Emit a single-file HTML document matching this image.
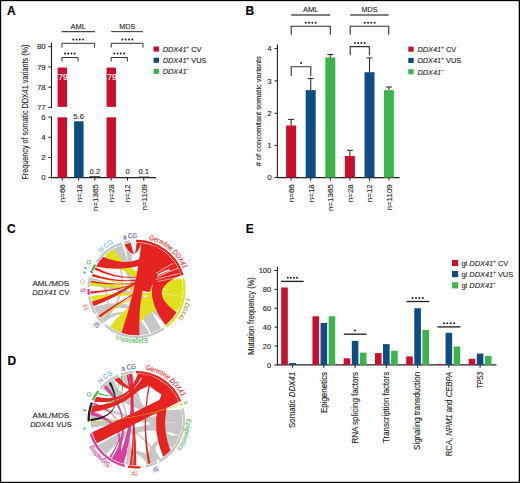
<!DOCTYPE html>
<html><head><meta charset="utf-8"><style>
html,body{margin:0;padding:0;background:#fff;width:520px;height:483px;overflow:hidden}
svg{display:block}
text{font-family:"Liberation Sans",sans-serif;stroke-width:0.12px}
</style></head><body>
<svg width="520" height="483" viewBox="0 0 520 483">
<rect width="520" height="483" fill="#fff"/>
<text x="7" y="14.9" font-size="12" font-weight="bold" fill="#000" stroke="#000" >A</text>
<text x="245.6" y="15.0" font-size="12" font-weight="bold" fill="#000" stroke="#000" >B</text>
<text x="7" y="233" font-size="12" font-weight="bold" fill="#000" stroke="#000" >C</text>
<text x="7.6" y="364.9" font-size="12" font-weight="bold" fill="#000" stroke="#000" >D</text>
<text x="245.8" y="232.8" font-size="12" font-weight="bold" fill="#000" stroke="#000" >E</text>
<line x1="51.5" y1="42.5" x2="51.5" y2="107.9" stroke="#231f20" stroke-width="1.1"/>
<line x1="51.5" y1="116.6" x2="51.5" y2="178.1" stroke="#231f20" stroke-width="1.1"/>
<line x1="48.3" y1="46.6" x2="51.5" y2="46.6" stroke="#231f20" stroke-width="1.0"/>
<text x="45.7" y="49.4" font-size="7.9" text-anchor="end" fill="#231f20" stroke="#231f20" >80</text>
<line x1="48.3" y1="66.9" x2="51.5" y2="66.9" stroke="#231f20" stroke-width="1.0"/>
<text x="45.7" y="69.7" font-size="7.9" text-anchor="end" fill="#231f20" stroke="#231f20" >79</text>
<line x1="48.3" y1="87.2" x2="51.5" y2="87.2" stroke="#231f20" stroke-width="1.0"/>
<text x="45.7" y="90.0" font-size="7.9" text-anchor="end" fill="#231f20" stroke="#231f20" >78</text>
<line x1="48.3" y1="107.4" x2="51.5" y2="107.4" stroke="#231f20" stroke-width="1.0"/>
<text x="45.7" y="110.2" font-size="7.9" text-anchor="end" fill="#231f20" stroke="#231f20" >77</text>
<line x1="48.3" y1="117.1" x2="51.5" y2="117.1" stroke="#231f20" stroke-width="1.0"/>
<text x="45.7" y="119.89999999999999" font-size="7.9" text-anchor="end" fill="#231f20" stroke="#231f20" >6</text>
<line x1="48.3" y1="137.3" x2="51.5" y2="137.3" stroke="#231f20" stroke-width="1.0"/>
<text x="45.7" y="140.10000000000002" font-size="7.9" text-anchor="end" fill="#231f20" stroke="#231f20" >4</text>
<line x1="48.3" y1="157.5" x2="51.5" y2="157.5" stroke="#231f20" stroke-width="1.0"/>
<text x="45.7" y="160.3" font-size="7.9" text-anchor="end" fill="#231f20" stroke="#231f20" >2</text>
<line x1="48.3" y1="177.6" x2="51.5" y2="177.6" stroke="#231f20" stroke-width="1.0"/>
<text x="45.7" y="180.4" font-size="7.9" text-anchor="end" fill="#231f20" stroke="#231f20" >0</text>
<line x1="51.0" y1="177.6" x2="156" y2="177.6" stroke="#231f20" stroke-width="1.1"/>
<line x1="62.3" y1="177.6" x2="62.3" y2="180.6" stroke="#231f20" stroke-width="1.0"/>
<line x1="78.6" y1="177.6" x2="78.6" y2="180.6" stroke="#231f20" stroke-width="1.0"/>
<line x1="94.9" y1="177.6" x2="94.9" y2="180.6" stroke="#231f20" stroke-width="1.0"/>
<line x1="111.2" y1="177.6" x2="111.2" y2="180.6" stroke="#231f20" stroke-width="1.0"/>
<line x1="127.5" y1="177.6" x2="127.5" y2="180.6" stroke="#231f20" stroke-width="1.0"/>
<line x1="143.8" y1="177.6" x2="143.8" y2="180.6" stroke="#231f20" stroke-width="1.0"/>
<rect x="57.65" y="67.6" width="9.4" height="39.3" fill="#c8102e"/>
<rect x="57.65" y="117.3" width="9.4" height="60.3" fill="#c8102e"/>
<text x="63.099999999999994" y="80.2" font-size="8.6" text-anchor="middle" fill="#fff" stroke="#fff" >79</text>
<rect x="106.55" y="67.6" width="9.4" height="39.3" fill="#c8102e"/>
<rect x="106.55" y="117.3" width="9.4" height="60.3" fill="#c8102e"/>
<text x="112.0" y="80.2" font-size="8.6" text-anchor="middle" fill="#fff" stroke="#fff" >79</text>
<rect x="74.1" y="121.3" width="9.5" height="56.3" fill="#0f4c81"/>
<rect x="89.4" y="176.2" width="11" height="1.6" fill="#2b2b2b"/>
<rect x="138.3" y="176.6" width="11" height="1.2" fill="#2b2b2b"/>
<text x="78.6" y="118.7" font-size="7.6" text-anchor="middle" fill="#231f20" stroke="#231f20" >5.6</text>
<text x="94.9" y="173.6" font-size="7.6" text-anchor="middle" fill="#231f20" stroke="#231f20" >0.2</text>
<text x="127.5" y="173.8" font-size="7.6" text-anchor="middle" fill="#231f20" stroke="#231f20" >0</text>
<text x="143.8" y="173.8" font-size="7.6" text-anchor="middle" fill="#231f20" stroke="#231f20" >0.1</text>
<text transform="translate(65.2,184.2) rotate(-90)" font-size="8.0" text-anchor="end" fill="#231f20" stroke="#231f20" >n=66</text>
<text transform="translate(81.5,184.2) rotate(-90)" font-size="8.0" text-anchor="end" fill="#231f20" stroke="#231f20" >n=18</text>
<text transform="translate(97.80000000000001,184.2) rotate(-90)" font-size="8.0" text-anchor="end" fill="#231f20" stroke="#231f20" >n=1365</text>
<text transform="translate(114.10000000000001,184.2) rotate(-90)" font-size="8.0" text-anchor="end" fill="#231f20" stroke="#231f20" >n=28</text>
<text transform="translate(130.4,184.2) rotate(-90)" font-size="8.0" text-anchor="end" fill="#231f20" stroke="#231f20" >n=12</text>
<text transform="translate(146.70000000000002,184.2) rotate(-90)" font-size="8.0" text-anchor="end" fill="#231f20" stroke="#231f20" >n=1109</text>
<text transform="translate(28.4,112.1) rotate(-90)" font-size="8.8" text-anchor="middle" textLength="135" lengthAdjust="spacingAndGlyphs" fill="#231f20" stroke="#231f20" >Frequency of somatic DDX41 variants (%)</text>
<text x="78.3" y="28.7" font-size="7.6" text-anchor="middle" textLength="15.6" lengthAdjust="spacingAndGlyphs" fill="#231f20" stroke="#231f20" >AML</text>
<line x1="61.7" y1="31.6" x2="94.9" y2="31.6" stroke="#444" stroke-width="1.1"/>
<text x="127.2" y="28.7" font-size="7.6" text-anchor="middle" textLength="16" lengthAdjust="spacingAndGlyphs" fill="#231f20" stroke="#231f20" >MDS</text>
<line x1="111.2" y1="31.6" x2="143.0" y2="31.6" stroke="#444" stroke-width="1.1"/>
<polyline points="61.9,47.6 61.9,43.3 94.6,43.3 94.6,47.6" fill="none" stroke="#333" stroke-width="1.0" stroke-linejoin="miter"/>
<circle cx="73.20" cy="39.6" r="1.0" fill="#231f20"/>
<circle cx="76.50" cy="39.6" r="1.0" fill="#231f20"/>
<circle cx="79.80" cy="39.6" r="1.0" fill="#231f20"/>
<circle cx="83.10" cy="39.6" r="1.0" fill="#231f20"/>
<polyline points="61.9,61.5 61.9,57.5 78.0,57.5 78.0,61.5" fill="none" stroke="#333" stroke-width="1.0" stroke-linejoin="miter"/>
<circle cx="65.00" cy="53.4" r="1.0" fill="#231f20"/>
<circle cx="68.23" cy="53.4" r="1.0" fill="#231f20"/>
<circle cx="71.47" cy="53.4" r="1.0" fill="#231f20"/>
<circle cx="74.70" cy="53.4" r="1.0" fill="#231f20"/>
<polyline points="111.2,47.6 111.2,43.3 143.0,43.3 143.0,47.6" fill="none" stroke="#333" stroke-width="1.0" stroke-linejoin="miter"/>
<circle cx="122.40" cy="39.6" r="1.0" fill="#231f20"/>
<circle cx="125.70" cy="39.6" r="1.0" fill="#231f20"/>
<circle cx="129.00" cy="39.6" r="1.0" fill="#231f20"/>
<circle cx="132.30" cy="39.6" r="1.0" fill="#231f20"/>
<polyline points="111.2,61.5 111.2,57.5 127.4,57.5 127.4,61.5" fill="none" stroke="#333" stroke-width="1.0" stroke-linejoin="miter"/>
<circle cx="114.30" cy="53.4" r="1.0" fill="#231f20"/>
<circle cx="117.53" cy="53.4" r="1.0" fill="#231f20"/>
<circle cx="120.77" cy="53.4" r="1.0" fill="#231f20"/>
<circle cx="124.00" cy="53.4" r="1.0" fill="#231f20"/>
<rect x="153.6" y="46.49999999999999" width="5.4" height="5.1000000000000005" fill="#c8102e"/>
<text x="162.7" y="51.9" font-size="7.4" fill="#231f20" stroke="#231f20"><tspan font-style="italic">DDX41</tspan><tspan font-size="4.59" dy="-3">+</tspan><tspan dy="3"> CV</tspan></text>
<rect x="153.6" y="57.699999999999996" width="5.4" height="5.1000000000000005" fill="#0f4c81"/>
<text x="162.7" y="63.1" font-size="7.4" fill="#231f20" stroke="#231f20"><tspan font-style="italic">DDX41</tspan><tspan font-size="4.59" dy="-3">+</tspan><tspan dy="3"> VUS</tspan></text>
<rect x="153.6" y="68.8" width="5.4" height="5.1000000000000005" fill="#3cb44b"/>
<text x="162.7" y="74.19999999999999" font-size="7.4" fill="#231f20" stroke="#231f20"><tspan font-style="italic">DDX41</tspan><tspan font-size="4.59" dy="-3">−</tspan><tspan dy="3"></tspan></text>
<line x1="277.4" y1="44.5" x2="277.4" y2="178.1" stroke="#231f20" stroke-width="1.1"/>
<line x1="274.4" y1="48.6" x2="277.4" y2="48.6" stroke="#231f20" stroke-width="1.0"/>
<text x="271.6" y="51.4" font-size="7.9" text-anchor="end" fill="#231f20" stroke="#231f20" >4</text>
<line x1="274.4" y1="80.9" x2="277.4" y2="80.9" stroke="#231f20" stroke-width="1.0"/>
<text x="271.6" y="83.7" font-size="7.9" text-anchor="end" fill="#231f20" stroke="#231f20" >3</text>
<line x1="274.4" y1="113.2" x2="277.4" y2="113.2" stroke="#231f20" stroke-width="1.0"/>
<text x="271.6" y="116.0" font-size="7.9" text-anchor="end" fill="#231f20" stroke="#231f20" >2</text>
<line x1="274.4" y1="145.4" x2="277.4" y2="145.4" stroke="#231f20" stroke-width="1.0"/>
<text x="271.6" y="148.20000000000002" font-size="7.9" text-anchor="end" fill="#231f20" stroke="#231f20" >1</text>
<line x1="274.4" y1="177.6" x2="277.4" y2="177.6" stroke="#231f20" stroke-width="1.0"/>
<text x="271.6" y="180.4" font-size="7.9" text-anchor="end" fill="#231f20" stroke="#231f20" >0</text>
<line x1="276.9" y1="177.6" x2="399.6" y2="177.6" stroke="#231f20" stroke-width="1.1"/>
<line x1="291.1" y1="119.4" x2="291.1" y2="125.5" stroke="#333" stroke-width="1.1"/>
<line x1="288.1" y1="119.4" x2="294.1" y2="119.4" stroke="#333" stroke-width="1.1"/>
<rect x="286.1" y="125.5" width="10" height="52.099999999999994" fill="#c8102e"/>
<line x1="291.1" y1="177.6" x2="291.1" y2="180.6" stroke="#231f20" stroke-width="1.0"/>
<line x1="310.7" y1="78.5" x2="310.7" y2="90.1" stroke="#333" stroke-width="1.1"/>
<line x1="307.7" y1="78.5" x2="313.7" y2="78.5" stroke="#333" stroke-width="1.1"/>
<rect x="305.7" y="90.1" width="10" height="87.5" fill="#0f4c81"/>
<line x1="310.7" y1="177.6" x2="310.7" y2="180.6" stroke="#231f20" stroke-width="1.0"/>
<line x1="330.3" y1="54.5" x2="330.3" y2="57.4" stroke="#333" stroke-width="1.1"/>
<line x1="327.3" y1="54.5" x2="333.3" y2="54.5" stroke="#333" stroke-width="1.1"/>
<rect x="325.3" y="57.4" width="10" height="120.19999999999999" fill="#3cb44b"/>
<line x1="330.3" y1="177.6" x2="330.3" y2="180.6" stroke="#231f20" stroke-width="1.0"/>
<line x1="349.9" y1="150.3" x2="349.9" y2="156.0" stroke="#333" stroke-width="1.1"/>
<line x1="346.9" y1="150.3" x2="352.9" y2="150.3" stroke="#333" stroke-width="1.1"/>
<rect x="344.9" y="156.0" width="10" height="21.599999999999994" fill="#c8102e"/>
<line x1="349.9" y1="177.6" x2="349.9" y2="180.6" stroke="#231f20" stroke-width="1.0"/>
<line x1="369.5" y1="57.9" x2="369.5" y2="72.2" stroke="#333" stroke-width="1.1"/>
<line x1="366.5" y1="57.9" x2="372.5" y2="57.9" stroke="#333" stroke-width="1.1"/>
<rect x="364.5" y="72.2" width="10" height="105.39999999999999" fill="#0f4c81"/>
<line x1="369.5" y1="177.6" x2="369.5" y2="180.6" stroke="#231f20" stroke-width="1.0"/>
<line x1="388.9" y1="87.0" x2="388.9" y2="90.2" stroke="#333" stroke-width="1.1"/>
<line x1="385.9" y1="87.0" x2="391.9" y2="87.0" stroke="#333" stroke-width="1.1"/>
<rect x="383.9" y="90.2" width="10" height="87.39999999999999" fill="#3cb44b"/>
<line x1="388.9" y1="177.6" x2="388.9" y2="180.6" stroke="#231f20" stroke-width="1.0"/>
<text transform="translate(294.0,184.2) rotate(-90)" font-size="8.0" text-anchor="end" fill="#231f20" stroke="#231f20" >n=66</text>
<text transform="translate(313.59999999999997,184.2) rotate(-90)" font-size="8.0" text-anchor="end" fill="#231f20" stroke="#231f20" >n=18</text>
<text transform="translate(333.2,184.2) rotate(-90)" font-size="8.0" text-anchor="end" fill="#231f20" stroke="#231f20" >n=1365</text>
<text transform="translate(352.79999999999995,184.2) rotate(-90)" font-size="8.0" text-anchor="end" fill="#231f20" stroke="#231f20" >n=28</text>
<text transform="translate(372.4,184.2) rotate(-90)" font-size="8.0" text-anchor="end" fill="#231f20" stroke="#231f20" >n=12</text>
<text transform="translate(391.79999999999995,184.2) rotate(-90)" font-size="8.0" text-anchor="end" fill="#231f20" stroke="#231f20" >n=1109</text>
<text transform="translate(260.7,111.2) rotate(-90)" font-size="7.9" text-anchor="middle" textLength="110" lengthAdjust="spacingAndGlyphs" fill="#231f20" stroke="#231f20" ># of concomitant somatic variants</text>
<text x="310.8" y="12.0" font-size="7.6" text-anchor="middle" textLength="15.6" lengthAdjust="spacingAndGlyphs" fill="#231f20" stroke="#231f20" >AML</text>
<line x1="291.2" y1="15.0" x2="330.3" y2="15.0" stroke="#555" stroke-width="1.3"/>
<text x="369.5" y="12.0" font-size="7.6" text-anchor="middle" textLength="15.8" lengthAdjust="spacingAndGlyphs" fill="#231f20" stroke="#231f20" >MDS</text>
<line x1="350.2" y1="15.0" x2="388.7" y2="15.0" stroke="#555" stroke-width="1.3"/>
<polyline points="291.2,34.8 291.2,26.3 330.3,26.3 330.3,34.8" fill="none" stroke="#333" stroke-width="1.1" stroke-linejoin="miter"/>
<circle cx="305.80" cy="22.7" r="1.0" fill="#231f20"/>
<circle cx="309.10" cy="22.7" r="1.0" fill="#231f20"/>
<circle cx="312.40" cy="22.7" r="1.0" fill="#231f20"/>
<circle cx="315.70" cy="22.7" r="1.0" fill="#231f20"/>
<polyline points="291.2,76.0 291.2,66.7 310.8,66.7 310.8,76.0" fill="none" stroke="#333" stroke-width="1.1" stroke-linejoin="miter"/>
<circle cx="301.1" cy="63.1" r="1.0" fill="#231f20"/>
<polyline points="350.2,34.8 350.2,26.3 388.7,26.3 388.7,34.8" fill="none" stroke="#333" stroke-width="1.1" stroke-linejoin="miter"/>
<circle cx="364.80" cy="22.7" r="1.0" fill="#231f20"/>
<circle cx="368.07" cy="22.7" r="1.0" fill="#231f20"/>
<circle cx="371.33" cy="22.7" r="1.0" fill="#231f20"/>
<circle cx="374.60" cy="22.7" r="1.0" fill="#231f20"/>
<polyline points="350.2,55.3 350.2,46.6 369.4,46.6 369.4,55.3" fill="none" stroke="#333" stroke-width="1.1" stroke-linejoin="miter"/>
<circle cx="354.90" cy="43.1" r="1.0" fill="#231f20"/>
<circle cx="358.13" cy="43.1" r="1.0" fill="#231f20"/>
<circle cx="361.37" cy="43.1" r="1.0" fill="#231f20"/>
<circle cx="364.60" cy="43.1" r="1.0" fill="#231f20"/>
<rect x="408.3" y="46.599999999999994" width="5.4" height="5.1000000000000005" fill="#c8102e"/>
<text x="417.4" y="52.0" font-size="7.4" fill="#231f20" stroke="#231f20"><tspan font-style="italic">DDX41</tspan><tspan font-size="4.59" dy="-3">+</tspan><tspan dy="3"> CV</tspan></text>
<rect x="408.3" y="57.9" width="5.4" height="5.1000000000000005" fill="#0f4c81"/>
<text x="417.4" y="63.300000000000004" font-size="7.4" fill="#231f20" stroke="#231f20"><tspan font-style="italic">DDX41</tspan><tspan font-size="4.59" dy="-3">+</tspan><tspan dy="3"> VUS</tspan></text>
<rect x="408.3" y="69.2" width="5.4" height="5.1000000000000005" fill="#3cb44b"/>
<text x="417.4" y="74.6" font-size="7.4" fill="#231f20" stroke="#231f20"><tspan font-style="italic">DDX41</tspan><tspan font-size="4.59" dy="-3">−</tspan><tspan dy="3"></tspan></text>
<line x1="277.4" y1="266.4" x2="277.4" y2="365.3" stroke="#231f20" stroke-width="1.1"/>
<line x1="274.4" y1="270.5" x2="277.4" y2="270.5" stroke="#231f20" stroke-width="1.0"/>
<text x="271.3" y="273.2" font-size="7.6" text-anchor="end" fill="#231f20" stroke="#231f20" >100</text>
<line x1="274.4" y1="289.38" x2="277.4" y2="289.38" stroke="#231f20" stroke-width="1.0"/>
<text x="271.3" y="292.08" font-size="7.6" text-anchor="end" fill="#231f20" stroke="#231f20" >80</text>
<line x1="274.4" y1="308.26" x2="277.4" y2="308.26" stroke="#231f20" stroke-width="1.0"/>
<text x="271.3" y="310.96" font-size="7.6" text-anchor="end" fill="#231f20" stroke="#231f20" >60</text>
<line x1="274.4" y1="327.14" x2="277.4" y2="327.14" stroke="#231f20" stroke-width="1.0"/>
<text x="271.3" y="329.84" font-size="7.6" text-anchor="end" fill="#231f20" stroke="#231f20" >40</text>
<line x1="274.4" y1="346.02" x2="277.4" y2="346.02" stroke="#231f20" stroke-width="1.0"/>
<text x="271.3" y="348.71999999999997" font-size="7.6" text-anchor="end" fill="#231f20" stroke="#231f20" >20</text>
<line x1="274.4" y1="364.9" x2="277.4" y2="364.9" stroke="#231f20" stroke-width="1.0"/>
<text x="271.3" y="367.59999999999997" font-size="7.6" text-anchor="end" fill="#231f20" stroke="#231f20" >0</text>
<line x1="276.9" y1="364.9" x2="496.4" y2="364.9" stroke="#231f20" stroke-width="1.2"/>
<rect x="281.2" y="287.49199999999996" width="6.6" height="77.408" fill="#c8102e"/>
<rect x="289.3" y="363.012" width="6.6" height="1.888" fill="#0f4c81"/>
<line x1="292.6" y1="364.9" x2="292.6" y2="367.9" stroke="#231f20" stroke-width="1.0"/>
<rect x="312.45" y="316.284" width="6.6" height="48.616" fill="#c8102e"/>
<rect x="320.55" y="322.892" width="6.6" height="42.007999999999996" fill="#0f4c81"/>
<rect x="328.65000000000003" y="316.284" width="6.6" height="48.616" fill="#3cb44b"/>
<line x1="323.85" y1="364.9" x2="323.85" y2="367.9" stroke="#231f20" stroke-width="1.0"/>
<rect x="343.7" y="358.292" width="6.6" height="6.608" fill="#c8102e"/>
<rect x="351.8" y="340.828" width="6.6" height="24.072" fill="#0f4c81"/>
<rect x="359.90000000000003" y="352.628" width="6.6" height="12.271999999999998" fill="#3cb44b"/>
<line x1="355.1" y1="364.9" x2="355.1" y2="367.9" stroke="#231f20" stroke-width="1.0"/>
<rect x="374.95" y="353.09999999999997" width="6.6" height="11.799999999999999" fill="#c8102e"/>
<rect x="383.05" y="344.13199999999995" width="6.6" height="20.768" fill="#0f4c81"/>
<rect x="391.15000000000003" y="350.73999999999995" width="6.6" height="14.16" fill="#3cb44b"/>
<line x1="386.35" y1="364.9" x2="386.35" y2="367.9" stroke="#231f20" stroke-width="1.0"/>
<rect x="406.2" y="356.404" width="6.6" height="8.495999999999999" fill="#c8102e"/>
<rect x="414.3" y="308.26" width="6.6" height="56.64" fill="#0f4c81"/>
<rect x="422.40000000000003" y="329.972" width="6.6" height="34.928" fill="#3cb44b"/>
<line x1="417.6" y1="364.9" x2="417.6" y2="367.9" stroke="#231f20" stroke-width="1.0"/>
<rect x="437.45" y="363.95599999999996" width="6.6" height="0.944" fill="#c8102e"/>
<rect x="445.55" y="332.804" width="6.6" height="32.096" fill="#0f4c81"/>
<rect x="453.65000000000003" y="346.49199999999996" width="6.6" height="18.407999999999998" fill="#3cb44b"/>
<line x1="448.85" y1="364.9" x2="448.85" y2="367.9" stroke="#231f20" stroke-width="1.0"/>
<rect x="468.7" y="358.76399999999995" width="6.6" height="6.135999999999999" fill="#c8102e"/>
<rect x="476.8" y="353.572" width="6.6" height="11.328" fill="#0f4c81"/>
<rect x="484.90000000000003" y="355.93199999999996" width="6.6" height="8.968" fill="#3cb44b"/>
<line x1="480.1" y1="364.9" x2="480.1" y2="367.9" stroke="#231f20" stroke-width="1.0"/>
<line x1="281.1" y1="281.4" x2="303.7" y2="281.4" stroke="#222" stroke-width="1.35"/>
<circle cx="287.80" cy="277.7" r="1.0" fill="#231f20"/>
<circle cx="290.87" cy="277.7" r="1.0" fill="#231f20"/>
<circle cx="293.93" cy="277.7" r="1.0" fill="#231f20"/>
<circle cx="297.00" cy="277.7" r="1.0" fill="#231f20"/>
<line x1="343.8" y1="334.2" x2="366.5" y2="334.2" stroke="#222" stroke-width="1.35"/>
<circle cx="354.9" cy="330.4" r="1.0" fill="#231f20"/>
<line x1="406.4" y1="301.5" x2="429.3" y2="301.5" stroke="#222" stroke-width="1.35"/>
<circle cx="412.60" cy="298.1" r="1.0" fill="#231f20"/>
<circle cx="416.00" cy="298.1" r="1.0" fill="#231f20"/>
<circle cx="419.40" cy="298.1" r="1.0" fill="#231f20"/>
<circle cx="422.80" cy="298.1" r="1.0" fill="#231f20"/>
<line x1="437.5" y1="326.9" x2="460.4" y2="326.9" stroke="#222" stroke-width="1.35"/>
<circle cx="443.90" cy="323.3" r="1.0" fill="#231f20"/>
<circle cx="447.33" cy="323.3" r="1.0" fill="#231f20"/>
<circle cx="450.77" cy="323.3" r="1.0" fill="#231f20"/>
<circle cx="454.20" cy="323.3" r="1.0" fill="#231f20"/>
<text transform="translate(295.40000000000003,371.9) rotate(-90)" font-size="8.7" text-anchor="end" textLength="56" lengthAdjust="spacingAndGlyphs" fill="#231f20" stroke="#231f20" >Somatic <tspan font-style="italic">DDX41</tspan></text>
<text transform="translate(326.65000000000003,371.9) rotate(-90)" font-size="8.7" text-anchor="end" textLength="41.2" lengthAdjust="spacingAndGlyphs" fill="#231f20" stroke="#231f20" >Epigenetics</text>
<text transform="translate(357.90000000000003,371.9) rotate(-90)" font-size="8.7" text-anchor="end" textLength="71.7" lengthAdjust="spacingAndGlyphs" fill="#231f20" stroke="#231f20" >RNA splicing factors</text>
<text transform="translate(389.15000000000003,371.9) rotate(-90)" font-size="8.7" text-anchor="end" textLength="71" lengthAdjust="spacingAndGlyphs" fill="#231f20" stroke="#231f20" >Transcription factors</text>
<text transform="translate(420.40000000000003,371.9) rotate(-90)" font-size="8.7" text-anchor="end" textLength="78" lengthAdjust="spacingAndGlyphs" fill="#231f20" stroke="#231f20" >Signaling transduction</text>
<text transform="translate(451.65000000000003,371.9) rotate(-90)" font-size="8.7" text-anchor="end" textLength="84.3" lengthAdjust="spacingAndGlyphs" fill="#231f20" stroke="#231f20" >RCA, <tspan font-style="italic">NPM1</tspan> and <tspan font-style="italic">CEBPA</tspan></text>
<text transform="translate(482.90000000000003,371.9) rotate(-90)" font-size="8.7" text-anchor="end" textLength="16.8" lengthAdjust="spacingAndGlyphs" fill="#231f20" stroke="#231f20" ><tspan font-style="italic">TP53</tspan></text>
<text transform="translate(253.6,316.0) rotate(-90)" font-size="8.2" text-anchor="middle" textLength="77.7" lengthAdjust="spacingAndGlyphs" fill="#231f20" stroke="#231f20" >Mutation frequency (%)</text>
<rect x="452.0" y="259.9" width="6.2" height="6.2" fill="#c8102e"/>
<text x="461.5" y="265.7" font-size="7.4" fill="#231f20" stroke="#231f20">gl <tspan font-style="italic">DDX41</tspan><tspan font-size="4.59" dy="-3">+</tspan><tspan dy="3"> CV</tspan></text>
<rect x="452.0" y="271.0" width="6.2" height="6.2" fill="#0f4c81"/>
<text x="461.5" y="276.8" font-size="7.4" fill="#231f20" stroke="#231f20">gl <tspan font-style="italic">DDX41</tspan><tspan font-size="4.59" dy="-3">+</tspan><tspan dy="3"> VUS</tspan></text>
<rect x="452.0" y="282.2" width="6.2" height="6.2" fill="#3cb44b"/>
<text x="461.5" y="288.0" font-size="7.4" fill="#231f20" stroke="#231f20">gl <tspan font-style="italic">DDX41</tspan><tspan font-size="4.59" dy="-3">−</tspan><tspan dy="3"></tspan></text>
<text x="50.8" y="285.6" font-size="7.6" text-anchor="middle" textLength="36.6" lengthAdjust="spacingAndGlyphs" fill="#231f20" stroke="#231f20" >AML/MDS</text>
<text x="50.8" y="295.2" font-size="7.6" text-anchor="middle" fill="#231f20" stroke="#231f20" textLength="37.2" lengthAdjust="spacingAndGlyphs"><tspan font-style="italic">DDX41</tspan> CV</text>
<text x="50.9" y="417.5" font-size="7.6" text-anchor="middle" textLength="36.7" lengthAdjust="spacingAndGlyphs" fill="#231f20" stroke="#231f20" >AML/MDS</text>
<text x="50.9" y="427.2" font-size="7.6" text-anchor="middle" fill="#231f20" stroke="#231f20" textLength="41.5" lengthAdjust="spacingAndGlyphs"><tspan font-style="italic">DDX41</tspan> VUS</text>
<path d="M113.35,248.90 A46.3,46.3 0 0 1 122.19,244.97 Q137.01,288.76 161.04,328.26 A46.3,46.3 0 0 1 150.81,333.03 Q136.06,289.20 113.35,248.90 Z" fill="#c6c6c6"/>
<path d="M110.61,250.62 A46.3,46.3 0 0 1 113.35,248.90 Q136.50,289.00 103.76,321.74 A46.3,46.3 0 0 1 101.03,318.76 Q136.50,289.00 110.61,250.62 Z" fill="#c6c6c6"/>
<path d="M90.31,285.77 A46.3,46.3 0 0 1 91.58,277.80 Q136.50,289.00 171.97,318.76 A46.3,46.3 0 0 1 165.01,325.48 Q136.50,289.00 90.31,285.77 Z" fill="#c6c6c6"/>
<path d="M98.12,314.89 A46.3,46.3 0 0 1 93.88,307.09 Q135.04,293.36 159.65,329.10 A46.3,46.3 0 0 1 150.81,333.03 Q134.69,294.24 98.12,314.89 Z" fill="#c6c6c6"/>
<path d="M104.34,322.31 A46.3,46.3 0 0 1 101.03,318.76 Q133.09,300.14 149.26,333.51 A46.3,46.3 0 0 1 140.54,335.12 Q132.28,300.91 104.34,322.31 Z" fill="#c6c6c6"/>
<path d="M124.52,244.28 A46.3,46.3 0 0 1 130.06,243.15 Q136.50,289.00 128.46,334.60 A46.3,46.3 0 0 1 123.74,333.51 Q136.50,289.00 124.52,244.28 Z" fill="#c6c6c6"/>
<path d="M92.99,304.84 A46.3,46.3 0 0 1 91.78,300.98 Q122.88,290.07 90.45,284.16 A46.3,46.3 0 0 1 91.21,279.37 Q123.18,289.93 92.99,304.84 Z" fill="#c6c6c6"/>
<path d="M90.90,280.96 A46.3,46.3 0 0 1 91.58,277.80 Q120.42,292.71 101.03,318.76 A46.3,46.3 0 0 1 99.04,316.21 Q119.89,292.83 90.90,280.96 Z" fill="#c6c6c6"/>
<path d="M181.61,278.58 A46.3,46.3 0 0 1 182.74,291.42 Q137.56,286.68 104.34,255.69 A46.3,46.3 0 0 1 113.35,248.90 Q138.15,285.21 181.61,278.58 Z" fill="#dfe01f"/>
<path d="M182.74,291.42 A46.3,46.3 0 0 1 182.23,296.24 Q136.50,289.00 90.31,285.77 A46.3,46.3 0 0 1 90.90,280.96 Q136.50,289.00 182.74,291.42 Z" fill="#dfe01f"/>
<path d="M182.23,296.24 A46.3,46.3 0 0 1 181.01,301.76 Q136.50,289.00 91.78,300.98 A46.3,46.3 0 0 1 90.77,296.24 Q136.50,289.00 182.23,296.24 Z" fill="#dfe01f"/>
<path d="M181.01,301.76 A46.3,46.3 0 0 1 176.99,311.45 Q136.50,289.00 120.66,332.51 A46.3,46.3 0 0 1 109.94,326.93 Q136.50,289.00 181.01,301.76 Z" fill="#dfe01f"/>
<path d="M181.79,298.63 A46.3,46.3 0 0 1 179.43,306.34 Q146.02,304.85 131.66,335.05 A46.3,46.3 0 0 1 123.74,333.51 Q131.62,280.88 181.79,298.63 Z" fill="#dfe01f"/>
<path d="M182.79,288.19 A46.3,46.3 0 0 1 182.74,291.42 Q136.50,289.00 100.52,318.14 A46.3,46.3 0 0 1 98.57,315.56 Q136.50,289.00 182.79,288.19 Z" fill="#dfe01f"/>
<path d="M182.77,290.62 A46.3,46.3 0 0 1 182.69,292.23 Q136.50,289.00 91.99,276.24 A46.3,46.3 0 0 1 92.72,273.93 Q136.50,289.00 182.77,290.62 Z" fill="#dfe01f"/>
<path d="M141.34,242.95 A46.3,46.3 0 0 1 158.24,248.12 Q136.50,289.00 139.73,335.19 A46.3,46.3 0 0 1 121.43,332.78 Q136.50,289.00 141.34,242.95 Z" fill="#e52421"/>
<path d="M156.80,247.39 A46.3,46.3 0 0 1 166.26,253.53 Q133.82,274.52 96.01,266.55 A46.3,46.3 0 0 1 103.19,256.84 Q133.25,270.56 156.80,247.39 Z" fill="#e52421"/>
<path d="M166.26,253.53 A46.3,46.3 0 0 1 168.66,255.69 Q136.50,289.00 93.57,306.34 A46.3,46.3 0 0 1 91.99,301.76 Q136.50,289.00 166.26,253.53 Z" fill="#e52421"/>
<path d="M168.66,255.69 A46.3,46.3 0 0 1 180.78,275.46 Q144.94,289.96 176.60,312.15 A46.3,46.3 0 0 1 165.64,324.98 Q136.50,289.00 168.66,255.69 Z" fill="#e52421"/>
<path d="M136.50,242.70 A46.3,46.3 0 0 1 141.34,242.95 Q134.54,264.04 124.52,244.28 A46.3,46.3 0 0 1 130.86,243.05 Q134.95,263.63 136.50,242.70 Z" fill="#e52421"/>
<path d="M176.19,265.15 A46.3,46.3 0 0 1 176.99,266.55 Q136.50,289.00 90.45,293.84 A46.3,46.3 0 0 1 90.26,291.42 Q136.50,289.00 176.19,265.15 Z" fill="#e52421"/>
<path d="M177.75,267.98 A46.3,46.3 0 0 1 178.46,269.43 Q136.50,289.00 91.99,276.24 A46.3,46.3 0 0 1 92.72,273.93 Q136.50,289.00 177.75,267.98 Z" fill="#e52421"/>
<path d="M179.12,270.91 A46.3,46.3 0 0 1 179.43,271.66 Q136.50,289.00 100.02,317.51 A46.3,46.3 0 0 1 98.57,315.56 Q136.50,289.00 179.12,270.91 Z" fill="#e52421"/>
<path d="M180.01,273.16 A46.3,46.3 0 0 1 180.28,273.93 Q136.50,289.00 90.65,282.56 A46.3,46.3 0 0 1 90.90,280.96 Q136.50,289.00 180.01,273.16 Z" fill="#e52421"/>
<path d="M174.43,262.44 A46.3,46.3 0 0 1 174.88,263.11 Q136.50,289.00 94.54,269.43 A46.3,46.3 0 0 1 95.62,267.26 Q136.50,289.00 174.43,262.44 Z" fill="#e52421"/>
<path d="M152.34,245.49 A46.3,46.3 0 0 1 180.78,275.46 Q136.50,289.00 152.34,245.49 Z" fill="#e52421"/>
<path d="M138,262 L165,262 L153,283 L149.5,292 L143,291 L141,280 Z" fill="#e52421"/>
<path d="M156,273.5 Q164,268 173,263.5" stroke="#fff" stroke-width="0.7" fill="none" stroke-linecap="round" opacity="0.9"/>
<path d="M157.5,277 Q167,272 177.5,268.5" stroke="#fff" stroke-width="0.8" fill="none" stroke-linecap="round" opacity="0.9"/>
<path d="M156,279.5 Q168,276 181.5,273" stroke="#fff" stroke-width="0.7" fill="none" stroke-linecap="round" opacity="0.9"/>
<path d="M158,281.5 Q170,279 182,276.5" stroke="#fff" stroke-width="0.6" fill="none" stroke-linecap="round" opacity="0.9"/>
<path d="M158,275 Q163,272 169,270" stroke="#fff" stroke-width="1.4" fill="none" stroke-linecap="round" opacity="0.9"/>
<path d="M136.08,241.00 A48.0,48.0 0 0 1 182.48,275.21" fill="none" stroke="#e52421" stroke-width="2.3"/>
<path d="M183.27,278.20 A48.0,48.0 0 0 1 166.05,326.82" fill="none" stroke="#dfe01f" stroke-width="2.3"/>
<path d="M164.03,328.32 A48.0,48.0 0 0 1 105.01,325.23" fill="none" stroke="#c6c6c6" stroke-width="2.3"/>
<path d="M103.16,323.53 A48.0,48.0 0 0 1 96.71,315.84" fill="none" stroke="#c6c6c6" stroke-width="2.3"/>
<path d="M95.36,313.72 A48.0,48.0 0 0 1 89.09,296.51" fill="none" stroke="#c6c6c6" stroke-width="2.3"/>
<path d="M88.86,294.85 A48.0,48.0 0 0 1 88.50,289.00" fill="none" stroke="#d8409f" stroke-width="2.3"/>
<path d="M88.53,287.32 A48.0,48.0 0 0 1 89.93,277.39" fill="none" stroke="#c6c6c6" stroke-width="2.3"/>
<path d="M91.39,272.58 A48.0,48.0 0 0 1 91.84,271.41" fill="none" stroke="#231f20" stroke-width="2.3"/>
<path d="M92.15,270.63 A48.0,48.0 0 0 1 95.14,264.64" fill="none" stroke="#4cb848" stroke-width="2.3"/>
<path d="M96.71,262.16 A48.0,48.0 0 0 1 121.67,243.35" fill="none" stroke="#c6c6c6" stroke-width="2.3"/>
<path d="M124.08,242.64 A48.0,48.0 0 0 1 130.65,241.36" fill="none" stroke="#c6c6c6" stroke-width="2.3"/>
<path id="cg1" d="M111.23,244.70 A51.0,51.0 0 0 1 184.33,306.69" fill="none"/><text font-size="7.0" fill="#e52421" stroke="#e52421" stroke-width="0.1" ><textPath href="#cg1" startOffset="50%" text-anchor="middle" textLength="47" lengthAdjust="spacingAndGlyphs">Germline <tspan font-style="italic">DDX41</tspan></textPath></text>
<path id="cg2" d="M86.81,277.53 A51.0,51.0 0 0 1 181.94,265.85" fill="none"/><text font-size="7.0" fill="#5a4a9c" stroke="#5a4a9c" stroke-width="0.1" ><textPath href="#cg2" startOffset="50%" text-anchor="middle" textLength="14" lengthAdjust="spacingAndGlyphs">a CG</textPath></text>
<path id="cg3" d="M87.40,302.80 A51.0,51.0 0 0 1 165.24,246.87" fill="none"/><text font-size="7.0" fill="#69b3e0" stroke="#69b3e0" stroke-width="0.1" ><textPath href="#cg3" startOffset="50%" text-anchor="middle" textLength="16.5" lengthAdjust="spacingAndGlyphs">nl CG</textPath></text>
<path id="cg4" d="M181.85,310.53 A50.2,50.2 0 0 1 87.92,301.65" fill="none"/><text font-size="6.8" fill="#5cb85c" stroke="#5cb85c" stroke-width="0.1" ><textPath href="#cg4" startOffset="50%" text-anchor="middle" textLength="31" lengthAdjust="spacingAndGlyphs">Epigenetics</textPath></text>
<path id="cg5" d="M155.44,336.35 A51.0,51.0 0 0 1 91.55,264.90" fill="none"/><text font-size="6.8" fill="#6a55a5" stroke="#6a55a5" stroke-width="0.1" ><textPath href="#cg5" startOffset="50%" text-anchor="middle" textLength="6" lengthAdjust="spacingAndGlyphs">SF</textPath></text>
<path id="cg6" d="M136.32,340.00 A51.0,51.0 0 0 1 103.85,249.82" fill="none"/><text font-size="6.8" fill="#f06b4e" stroke="#f06b4e" stroke-width="0.1" ><textPath href="#cg6" startOffset="50%" text-anchor="middle" textLength="6.5" lengthAdjust="spacingAndGlyphs">TF</textPath></text>
<path id="cg7" d="M120.32,337.36 A51.0,51.0 0 0 1 117.81,241.55" fill="none"/><text font-size="6.8" fill="#d63a98" stroke="#d63a98" stroke-width="0.1" ><textPath href="#cg7" startOffset="50%" text-anchor="middle">S</textPath></text>
<path id="cg8" d="M171.28,251.70 A51.0,51.0 0 0 1 133.83,339.93" fill="none"/><text font-size="6.0" fill="#9c9a2a" stroke="#9c9a2a" stroke-width="0.1" ><textPath href="#cg8" startOffset="50%" text-anchor="middle" textLength="23" lengthAdjust="spacingAndGlyphs">s <tspan font-style="italic">DDX41</tspan></textPath></text>
<circle cx="82.6" cy="281.8" r="2.2" fill="none" stroke="#bbb" stroke-width="0.8"/>
<circle cx="88.9" cy="262.2" r="1.9" fill="none" stroke="#4cb848" stroke-width="0.8"/>
<circle cx="84.5" cy="272.6" r="1.2" fill="#3fb6e8"/>
<line x1="84.2" y1="267.2" x2="86.8" y2="268.8" stroke="#231f20" stroke-width="0.8"/>
<path d="M181.63,412.52 A45.9,45.9 0 0 1 182.09,422.90 Q136.30,419.70 91.10,427.67 A45.9,45.9 0 0 1 90.43,421.30 Q136.30,419.70 181.63,412.52 Z" fill="#c6c6c6"/>
<path d="M182.09,422.90 A45.9,45.9 0 0 1 179.43,435.40 Q136.30,419.70 106.19,454.34 A45.9,45.9 0 0 1 98.25,445.37 Q136.30,419.70 182.09,422.90 Z" fill="#c6c6c6"/>
<path d="M179.43,435.40 A45.9,45.9 0 0 1 172.47,447.96 Q149.29,435.18 157.85,460.23 A45.9,45.9 0 0 1 145.84,464.60 Q148.15,433.33 179.43,435.40 Z" fill="#c6c6c6"/>
<path d="M102.19,388.99 A45.9,45.9 0 0 1 110.63,381.65 Q138.21,414.86 181.02,409.37 A45.9,45.9 0 0 1 182.03,415.70 Q137.46,416.23 102.19,388.99 Z" fill="#c6c6c6"/>
<path d="M160.62,458.63 A45.9,45.9 0 0 1 158.55,459.85 Q136.30,419.70 90.40,419.70 A45.9,45.9 0 0 1 90.65,414.90 Q136.30,419.70 160.62,458.63 Z" fill="#c6c6c6"/>
<path d="M128.33,374.50 A45.9,45.9 0 0 1 133.10,373.91 Q141.09,417.26 171.46,449.20 A45.9,45.9 0 0 1 170.41,450.41 Q140.22,417.53 128.33,374.50 Z" fill="#c6c6c6"/>
<path d="M110.63,381.65 A45.9,45.9 0 0 1 113.35,379.95 Q136.30,419.70 128.33,464.90 A45.9,45.9 0 0 1 125.20,464.24 Q136.30,419.70 110.63,381.65 Z" fill="#c6c6c6"/>
<path d="M90.43,418.10 A45.9,45.9 0 0 1 90.65,414.90 Q136.30,419.70 131.50,465.35 A45.9,45.9 0 0 1 128.33,464.90 Q136.30,419.70 90.43,418.10 Z" fill="#c6c6c6"/>
<path d="M156.42,460.95 A45.9,45.9 0 0 1 147.40,464.24 Q134.63,443.65 119.11,462.26 A45.9,45.9 0 0 1 109.32,456.83 Q134.41,441.26 156.42,460.95 Z" fill="#c6c6c6"/>
<path d="M122.12,376.05 A45.9,45.9 0 0 1 126.76,374.80 Q139.47,417.22 177.55,439.82 A45.9,45.9 0 0 1 174.35,445.37 Q138.69,417.90 122.12,376.05 Z" fill="#c6c6c6"/>
<path d="M91.96,407.82 A45.9,45.9 0 0 1 93.17,404.00 Q136.42,419.23 181.75,426.09 A45.9,45.9 0 0 1 180.84,430.80 Q136.31,419.66 91.96,407.82 Z" fill="#c6c6c6"/>
<path d="M123.65,463.82 A45.9,45.9 0 0 1 116.90,461.30 Q136.30,419.70 128.33,374.50 A45.9,45.9 0 0 1 132.30,373.97 Q136.30,419.70 123.65,463.82 Z" fill="#d8409f"/>
<path d="M115.46,460.60 A45.9,45.9 0 0 1 111.98,458.63 Q136.30,419.70 103.84,387.24 A45.9,45.9 0 0 1 106.19,385.06 Q136.30,419.70 115.46,460.60 Z" fill="#d8409f"/>
<path d="M90.65,414.90 A45.9,45.9 0 0 1 91.24,410.94 Q130.07,423.08 119.11,462.26 A45.9,45.9 0 0 1 115.46,460.60 Q129.65,423.31 90.65,414.90 Z" fill="#d8409f"/>
<path d="M110.63,457.75 A45.9,45.9 0 0 1 109.32,456.83 Q136.30,419.70 93.17,404.00 A45.9,45.9 0 0 1 93.74,402.51 Q136.30,419.70 110.63,457.75 Z" fill="#d8409f"/>
<path d="M90.43,421.30 A45.9,45.9 0 0 1 90.41,418.90 Q127.11,415.02 108.68,383.04 A45.9,45.9 0 0 1 110.63,381.65 Q127.36,415.14 90.43,421.30 Z" fill="#231f20"/>
<path d="M94.70,400.30 A45.9,45.9 0 0 1 95.77,398.15 Q127.87,410.00 120.60,376.57 A45.9,45.9 0 0 1 122.12,376.05 Q127.93,410.24 94.70,400.30 Z" fill="#4cb848"/>
<path d="M98.25,394.03 A45.9,45.9 0 0 1 99.17,392.72 Q122.35,402.47 117.63,377.77 A45.9,45.9 0 0 1 118.37,377.45 Q122.30,402.72 98.25,394.03 Z" fill="#4cb848"/>
<path d="M144.27,374.50 A45.9,45.9 0 0 1 152.00,376.57 Q128.89,407.12 90.97,412.52 A45.9,45.9 0 0 1 92.65,405.52 Q127.38,404.85 144.27,374.50 Z" fill="#e52421"/>
<path d="M137.90,373.83 A45.9,45.9 0 0 1 142.69,374.25 Q128.23,405.44 94.05,401.77 A45.9,45.9 0 0 1 96.55,396.75 Q127.72,404.22 137.90,373.83 Z" fill="#e52421"/>
<path d="M173.43,392.72 A45.9,45.9 0 0 1 178.68,402.06 Q137.59,422.25 96.96,443.34 A45.9,45.9 0 0 1 92.18,432.35 Q133.33,413.61 173.43,392.72 Z" fill="#e52421"/>
<path d="M165.80,384.54 A45.9,45.9 0 0 1 172.47,391.44 Q158.79,420.49 170.41,450.41 A45.9,45.9 0 0 1 163.28,456.83 Q147.60,420.09 165.80,384.54 Z" fill="#e52421"/>
<path d="M150.48,376.05 A45.9,45.9 0 0 1 152.00,376.57 Q140.78,419.78 150.48,463.35 A45.9,45.9 0 0 1 148.18,464.04 Q140.21,419.80 150.48,376.05 Z" fill="#e52421"/>
<path d="M114.05,379.55 A45.9,45.9 0 0 1 119.11,377.14 Q135.96,400.42 152.00,376.57 A45.9,45.9 0 0 1 156.42,378.45 Q135.82,401.39 114.05,379.55 Z" fill="#e52421"/>
<path d="M126.76,374.80 A45.9,45.9 0 0 1 128.33,374.50 Q136.30,419.70 136.30,465.60 A45.9,45.9 0 0 1 133.10,465.49 Q136.30,419.70 126.76,374.80 Z" fill="#e52421"/>
<path d="M129.91,374.25 A45.9,45.9 0 0 1 131.50,374.05 Q136.30,419.70 132.30,465.43 A45.9,45.9 0 0 1 129.91,465.15 Q136.30,419.70 129.91,374.25 Z" fill="#e52421"/>
<path d="M179.57,404.38 A45.9,45.9 0 0 1 179.90,405.36 Q136.19,419.14 90.51,422.90 A45.9,45.9 0 0 1 90.46,422.10 Q136.17,419.05 179.57,404.38 Z" fill="#dfe01f"/>
<path d="M137.90,373.83 A45.9,45.9 0 0 1 178.68,402.06 Q153.89,394.30 137.90,373.83 Z" fill="#e52421"/>
<path d="M135.88,372.10 A47.6,47.6 0 0 1 180.24,401.41" fill="none" stroke="#e52421" stroke-width="2.3"/>
<path d="M181.03,403.42 A47.6,47.6 0 0 1 181.72,405.47" fill="none" stroke="#dfe01f" stroke-width="2.3"/>
<path d="M182.49,408.18 A47.6,47.6 0 0 1 159.38,461.33" fill="none" stroke="#c6c6c6" stroke-width="2.3"/>
<path d="M157.17,462.48 A47.6,47.6 0 0 1 145.38,466.43" fill="none" stroke="#c6c6c6" stroke-width="2.3"/>
<path d="M140.45,467.12 A47.6,47.6 0 0 1 128.03,466.58" fill="none" stroke="#e52421" stroke-width="2.3"/>
<path d="M124.78,465.89 A47.6,47.6 0 0 1 90.78,433.62" fill="none" stroke="#d8409f" stroke-width="2.3"/>
<path d="M88.73,421.36 A47.6,47.6 0 0 1 91.86,402.64" fill="none" stroke="#231f20" stroke-width="2.3"/>
<path d="M92.82,400.34 A47.6,47.6 0 0 1 98.28,391.05" fill="none" stroke="#4cb848" stroke-width="2.3"/>
<path d="M100.38,388.47 A47.6,47.6 0 0 1 118.47,375.57" fill="none" stroke="#c6c6c6" stroke-width="2.3"/>
<path d="M120.80,374.69 A47.6,47.6 0 0 1 132.98,372.22" fill="none" stroke="#c6c6c6" stroke-width="2.3"/>
<path id="dg1" d="M108.26,377.34 A50.8,50.8 0 0 1 185.01,434.13" fill="none"/><text font-size="7.0" fill="#e52421" stroke="#e52421" stroke-width="0.1" ><textPath href="#dg1" startOffset="50%" text-anchor="middle" textLength="47" lengthAdjust="spacingAndGlyphs">Germline <tspan font-style="italic">DDX41</tspan></textPath></text>
<path id="dg2" d="M86.56,409.40 A50.8,50.8 0 0 1 181.03,395.62" fill="none"/><text font-size="7.0" fill="#5a4a9c" stroke="#5a4a9c" stroke-width="0.1" ><textPath href="#dg2" startOffset="50%" text-anchor="middle" textLength="14" lengthAdjust="spacingAndGlyphs">a CG</textPath></text>
<path id="dg3" d="M87.57,434.04 A50.8,50.8 0 0 1 164.41,377.39" fill="none"/><text font-size="7.0" fill="#69b3e0" stroke="#69b3e0" stroke-width="0.1" ><textPath href="#dg3" startOffset="50%" text-anchor="middle" textLength="16.4" lengthAdjust="spacingAndGlyphs">nl CG</textPath></text>
<path id="dg4" d="M166.79,379.82 A50.2,50.2 0 0 1 138.58,469.85" fill="none"/><text font-size="6.8" fill="#5cb85c" stroke="#5cb85c" stroke-width="0.1" ><textPath href="#dg4" startOffset="50%" text-anchor="middle" textLength="32" lengthAdjust="spacingAndGlyphs">Epigenetics</textPath></text>
<path id="dg5" d="M187.09,418.72 A50.8,50.8 0 0 1 98.02,453.09" fill="none"/><text font-size="6.8" fill="#6a55a5" stroke="#6a55a5" stroke-width="0.1" ><textPath href="#dg5" startOffset="50%" text-anchor="middle" textLength="6" lengthAdjust="spacingAndGlyphs">SF</textPath></text>
<path id="dg6" d="M183.43,438.65 A50.8,50.8 0 0 1 88.01,435.48" fill="none"/><text font-size="6.8" fill="#f06b4e" stroke="#f06b4e" stroke-width="0.1" ><textPath href="#dg6" startOffset="50%" text-anchor="middle" textLength="6.5" lengthAdjust="spacingAndGlyphs">TF</textPath></text>
<path id="dg7" d="M157.77,465.74 A50.8,50.8 0 0 1 90.26,398.23" fill="none"/><text font-size="6.8" fill="#d63a98" stroke="#d63a98" stroke-width="0.1" ><textPath href="#dg7" startOffset="50%" text-anchor="middle" textLength="26.5" lengthAdjust="spacingAndGlyphs">Signaling</textPath></text>
<path id="dg8" d="M137.19,368.91 A50.8,50.8 0 0 1 168.27,459.18" fill="none"/><text font-size="6.0" fill="#9c9a2a" stroke="#9c9a2a" stroke-width="0.1" ><textPath href="#dg8" startOffset="50%" text-anchor="middle">s</textPath></text>
<circle cx="89.2" cy="394.4" r="1.9" fill="none" stroke="#4cb848" stroke-width="0.8"/>
<circle cx="84.4" cy="428.6" r="1.2" fill="#3fb6e8"/>
<line x1="83.4" y1="409.8" x2="86.0" y2="410.6" stroke="#231f20" stroke-width="0.8"/>
<rect x="0" y="0" width="520" height="1.15" fill="#000"/>
<rect x="0" y="0" width="1.15" height="483" fill="#000"/>
<rect x="518.7" y="0" width="1.3" height="483" fill="#000"/>
<rect x="0" y="481.8" width="520" height="1.2" fill="#000"/>
</svg>
</body></html>
